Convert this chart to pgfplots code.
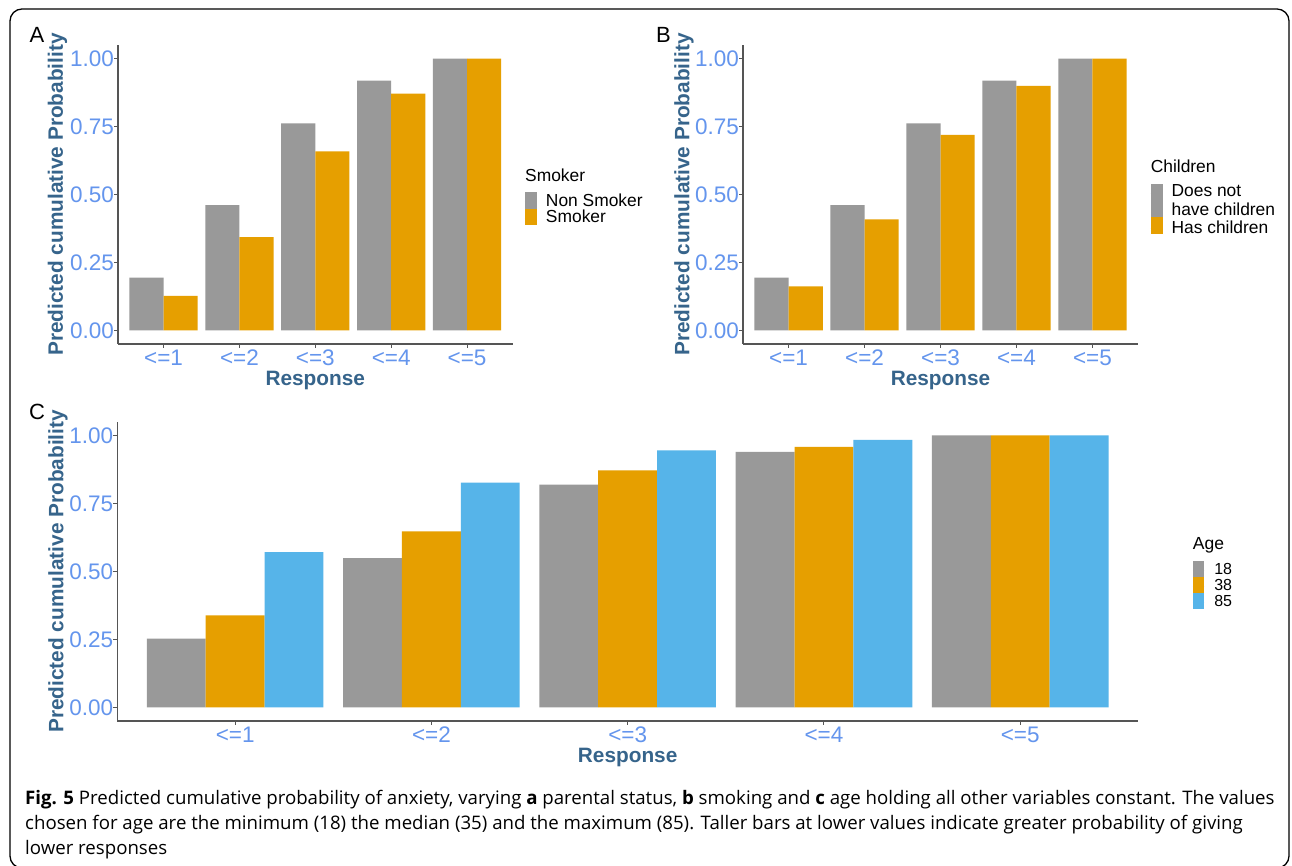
\documentclass[border=0pt]{standalone}
\usepackage{fontspec}
\setmainfont{Liberation Sans}
\newfontfamily\capfont{Open Sans}
\usepackage{pgfplots}
\pgfplotsset{compat=1.18}
\definecolor{cgrey}{HTML}{999999}
\definecolor{corange}{HTML}{E69F00}
\definecolor{cblue}{HTML}{56B4E9}
\definecolor{tickblue}{HTML}{6495ED}
\definecolor{labblue}{HTML}{36648B}
\definecolor{axgrey}{HTML}{555555}
\newcommand\ticksize{\fontsize{22.5}{26}\selectfont}
\newcommand\labfont{\fontsize{20.8}{24}\selectfont\bfseries}
\pgfplotsset{
  gg/.style={
    scale only axis,
    axis lines=left,
    axis line style={-, draw=axgrey, line width=1.1pt},
    xmin=0.4, xmax=5.6, ymin=-0.05, ymax=1.05,
    xtick={1,2,3,4,5}, xticklabels={<=1,<=2,<=3,<=4,<=5},
    ytick={0,0.25,0.5,0.75,1}, yticklabels={0.00,0.25,0.50,0.75,1.00},
    tick align=outside, major tick length=4pt,
    tick style={draw=axgrey, line width=1.1pt},
    ticklabel style={font=\ticksize, text=tickblue},
    xticklabel style={anchor=north, inner sep=0pt, yshift=-2pt},
    yticklabel style={anchor=east, inner sep=0pt, xshift=0pt},
    label style={font=\labfont, text=labblue},
    ybar=0pt, bar width=0.45,
    every axis plot/.append style={draw=none},
    legend cell align=left,
    legend style={draw=none, fill=none, inner sep=0pt, outer sep=0pt,
      row sep=0pt, column sep=9pt,
      nodes={inner sep=0pt, outer sep=0pt, text height=12.5pt, text depth=4pt}},
  },
  key/.style n args={4}{legend image code/.code={%
    \path (0pt,0pt) -- (#2,0pt);
    \fill[#1, overlay, yshift=-0.5ex] (0pt,#3) rectangle (#2,#4);}},
}
\begin{document}
\begin{tikzpicture}
\useasboundingbox (0pt,0pt) rectangle (1292pt,866pt);
\fill[white] (0pt,0pt) rectangle (1292pt,866pt);
\draw[line width=1.3pt, rounded corners=12pt] (10pt,857pt) rectangle (1289pt,-2pt);

% Panel A
\begin{axis}[gg, at={(118pt,522pt)}, anchor=south west, width=394.6pt, height=299pt,
  xlabel={Response}, ylabel={Predicted cumulative Probability},
  xlabel style={at={(axis description cs:0.5,-0.1237)}, anchor=center},
  ylabel style={at={(axis description cs:-0.1533,0.5)}, anchor=center},
  legend style={at={(axis description cs:1.0314,0.5033)}, anchor=north west,
    font=\fontsize{17.4}{20}\selectfont}]
\addplot[fill=cgrey, key={cgrey}{12pt}{-4.25pt}{12.25pt}] coordinates {(1,0.194) (2,0.461) (3,0.762) (4,0.919) (5,1.000)};
\addlegendentry{Non Smoker}
\addplot[fill=corange, key={corange}{12pt}{-4.25pt}{12.25pt}] coordinates {(1,0.127) (2,0.343) (3,0.659) (4,0.871) (5,1.000)};
\addlegendentry{Smoker}
\end{axis}

% Panel B
\begin{axis}[gg, at={(743pt,522pt)}, anchor=south west, width=395pt, height=299pt,
  xlabel={Response}, ylabel={Predicted cumulative Probability},
  xlabel style={at={(axis description cs:0.5,-0.1237)}, anchor=center},
  ylabel style={at={(axis description cs:-0.1494,0.5)}, anchor=center},
  legend style={at={(axis description cs:1.0319,0.5351)}, anchor=north west,
    font=\fontsize{17.4}{20}\selectfont,
    nodes={text height=12.7pt, text depth=4pt}}]
\addplot[fill=cgrey, key={cgrey}{12pt}{-22pt}{12.4pt}]
  coordinates {(1,0.194) (2,0.461) (3,0.762) (4,0.919) (5,1.000)};
\addlegendentry[text depth=6.6pt]{Does not}
\addlegendimage{empty legend}
\addlegendentry[text depth=4.6pt]{have children}
\addplot[fill=corange, key={corange}{12pt}{-2pt}{14.4pt}]
  coordinates {(1,0.162) (2,0.408) (3,0.719) (4,0.900) (5,1.000)};
\addlegendentry{Has children}
\end{axis}

% Panel C
\begin{axis}[gg, at={(117.4pt,145pt)}, anchor=south west, width=1020.6pt, height=299.3pt,
  bar width=0.3,
  xlabel={Response}, ylabel={Predicted cumulative Probability},
  xlabel style={at={(axis description cs:0.5,-0.1226)}, anchor=center},
  ylabel style={at={(axis description cs:-0.0582,0.5)}, anchor=center},
  legend style={at={(axis description cs:1.0539,0.5302)}, anchor=north west,
    font=\fontsize{16}{19}\selectfont, column sep=10pt,
    nodes={text height=12pt, text depth=4pt}}]
\addplot[fill=cgrey, key={cgrey}{11.3pt}{-4.2pt}{11.8pt}] coordinates {(1,0.253) (2,0.549) (3,0.819) (4,0.939) (5,1.000)};
\addlegendentry{18}
\addplot[fill=corange, key={corange}{11.3pt}{-4.2pt}{11.8pt}] coordinates {(1,0.338) (2,0.647) (3,0.871) (4,0.957) (5,1.000)};
\addlegendentry{38}
\addplot[fill=cblue, key={cblue}{11.3pt}{-4.2pt}{11.8pt}] coordinates {(1,0.571) (2,0.826) (3,0.945) (4,0.983) (5,1.000)};
\addlegendentry{85}
\end{axis}

% panel letters and legend titles
\node[anchor=base west, inner sep=0pt, font=\fontsize{22}{24}\selectfont] at (29.5pt,823pt) {A};
\node[anchor=base west, inner sep=0pt, font=\fontsize{22}{24}\selectfont] at (655.8pt,823pt) {B};
\node[anchor=base west, inner sep=0pt, font=\fontsize{22}{24}\selectfont] at (29pt,446pt) {C};
\node[anchor=base west, inner sep=0pt, font=\fontsize{17.4}{20}\selectfont] at (525pt,684.5pt) {Smoker};
\node[anchor=base west, inner sep=0pt, font=\fontsize{17.4}{20}\selectfont] at (1150.6pt,693.8pt) {Children};
\node[anchor=base west, inner sep=0pt, font=\fontsize{17.5}{20}\selectfont] at (1192.7pt,316.2pt) {Age};

% caption
\begin{scope}[every node/.style={anchor=base west, inner sep=0pt, font=\capfont\fontsize{18.65}{22}\selectfont}]
\node at (25pt,61.5pt) {{\bfseries Fig. 5} Predicted cumulative probability of anxiety, varying {\bfseries a} parental status, {\bfseries b} smoking and {\bfseries c} age holding all other variables constant. The values};
\node at (25pt,36pt) {chosen for age are the minimum (18) the median (35) and the maximum (85). Taller bars at lower values indicate greater probability of giving};
\node at (25pt,11pt) {lower responses};
\end{scope}
\end{tikzpicture}
\end{document}
